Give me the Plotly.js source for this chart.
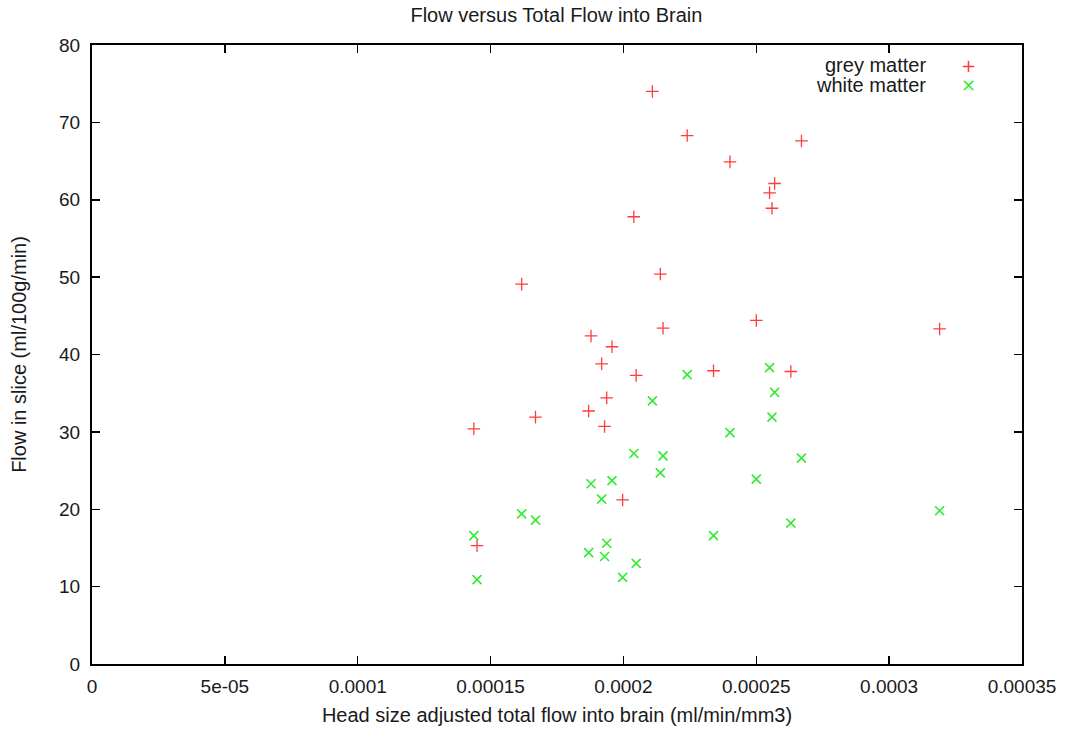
<!DOCTYPE html>
<html>
<head>
<meta charset="utf-8">
<script src="https://cdn.plot.ly/plotly-3.0.1.min.js"></script>
<style>html,body{margin:0;padding:0;background:#fff;}#chart{width:1066px;height:729px;}</style>
</head>
<body>
<div id="chart"></div>
<script>
// Head size adjusted total flow into brain (ml/min/mm3)
const totalFlow = [0.0001437, 0.0001449, 0.0001617, 0.0001669, 0.0001869, 0.0001878, 0.0001918, 0.0001929,
  0.0001937, 0.0001957, 0.0001997, 0.0002039, 0.0002048, 0.0002109, 0.0002139, 0.0002149, 0.0002240,
  0.0002339, 0.0002401, 0.0002500, 0.0002550, 0.0002559, 0.0002569, 0.0002630, 0.0002670, 0.0003190];
// Flow in slice (ml/100g/min)
const greyMatter = [30.4, 15.3, 49.1, 31.9, 32.7, 42.4, 38.8, 30.7, 34.4, 41.0, 21.2, 57.8, 37.3, 74.0,
  50.4, 43.4, 68.3, 37.9, 64.9, 44.4, 60.9, 58.9, 62.1, 37.8, 67.6, 43.3];
const whiteMatter = [16.6, 10.9, 19.4, 18.6, 14.4, 23.3, 21.3, 13.9, 15.6, 23.7, 11.2, 27.2, 13.0, 34.0,
  24.7, 26.9, 37.4, 16.6, 29.9, 23.9, 38.3, 31.9, 35.1, 18.2, 26.6, 19.8];
const seriesNames = ['grey matter', 'white matter'];
const legendGlyphs = ['+', '\u00d7'];
const xTickVals = [0, 0.00005, 0.0001, 0.00015, 0.0002, 0.00025, 0.0003, 0.00035];
const xTickText = ['0', '5e-05', '0.0001', '0.00015', '0.0002', '0.00025', '0.0003', '0.00035'];
const yTickVals = [0, 10, 20, 30, 40, 50, 60, 70, 80];

const FONT = 'Liberation Sans, Arial, Helvetica, sans-serif';
const TXT = '#1a1a1a';
const colors = ['rgb(255,60,60)', 'rgb(50,235,50)'];

const traces = [
  {
    x: totalFlow, y: greyMatter, name: seriesNames[0], type: 'scatter', mode: 'markers',
    marker: {symbol: 'cross-thin', size: 9, color: 'rgba(0,0,0,0)', line: {color: colors[0], width: 1.3}}
  },
  {
    x: totalFlow, y: whiteMatter, name: seriesNames[1], type: 'scatter', mode: 'markers',
    marker: {symbol: 'x-thin', size: 9, color: 'rgba(0,0,0,0)', line: {color: colors[1], width: 1.6}}
  }
];

const axisCommon = {
  showline: true, linecolor: '#000', linewidth: 2, mirror: 'all',
  ticks: 'inside', ticklen: 8, tickwidth: 1.5, tickcolor: '#000',
  showgrid: false, zeroline: false, automargin: false,
  tickfont: {family: FONT, size: 19, color: TXT}
};

// legend drawn as right-aligned text with the marker glyph to its right (gnuplot style)
const annotations = [];
seriesNames.forEach(function (name, i) {
  annotations.push({xref: 'paper', yref: 'paper', x: 0.899, y: 0.967 - i * 0.031, xanchor: 'right', yanchor: 'middle',
    text: name, showarrow: false, font: {family: FONT, size: 20, color: TXT}});
  annotations.push({xref: 'paper', yref: 'paper', x: 0.942, y: 0.967 - i * 0.031, xanchor: 'center', yanchor: 'middle',
    text: legendGlyphs[i], showarrow: false, font: {family: 'DejaVu Sans, sans-serif', size: 18, color: colors[i]}});
});

const layout = {
  width: 1066, height: 729,
  paper_bgcolor: '#fff', plot_bgcolor: '#fff',
  margin: {l: 92, r: 44, t: 45, b: 65},
  font: {family: FONT, size: 20, color: TXT},
  title: {text: 'Flow versus Total Flow into Brain', x: 0.522, xanchor: 'center', y: 0.979, yanchor: 'middle',
    font: {family: FONT, size: 20, color: TXT}},
  xaxis: Object.assign({}, axisCommon, {
    range: [0, 0.00035], tickmode: 'array', tickvals: xTickVals, ticktext: xTickText, ticklabelstandoff: 4,
    title: {text: 'Head size adjusted total flow into brain (ml/min/mm3)', standoff: 12,
      font: {family: FONT, size: 20, color: TXT}}
  }),
  yaxis: Object.assign({}, axisCommon, {
    range: [0, 80], tickmode: 'array', tickvals: yTickVals, ticklabelstandoff: 6,
    title: {text: 'Flow in slice (ml/100g/min)', standoff: 27,
      font: {family: FONT, size: 20, color: TXT}}
  }),
  showlegend: false,
  annotations: annotations
};

Plotly.newPlot('chart', traces, layout, {displayModeBar: false, staticPlot: true});
</script>
</body>
</html>
